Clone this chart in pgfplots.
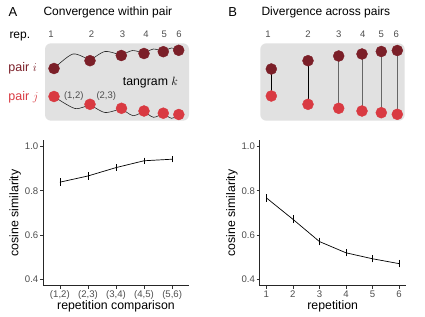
\documentclass[border=0pt]{standalone}
\usepackage{pgfplots}
\pgfplotsset{compat=1.18}
\usepackage{fontspec}
\setmainfont{Liberation Sans}
\definecolor{darkr}{HTML}{7B1F28}
\definecolor{lightr}{HTML}{D93A42}
\definecolor{boxg}{HTML}{E1E1E1}
\definecolor{tickg}{HTML}{4D4D4D}
\pgfplotsset{
  gg/.style={
    scale only axis, width=146pt, height=145.7pt,
    axis lines*=left,
    axis line style={black!85, line width=0.6pt, -},
    tick align=outside, major tick length=3pt,
    tick style={black!80, line width=0.6pt},
    ymin=0.37, ymax=1.03,
    ytick={0.4,0.6,0.8,1.0},
    yticklabels={0.4,0.6,0.8,1.0},
    ticklabel style={font=\fontsize{9.6}{10}\selectfont, text=tickg, inner sep=1.5pt},
    label style={font=\fontsize{12.3}{13}\selectfont},
    ylabel style={at={(axis description cs:-0.19,0.5)}, anchor=center},
    xlabel style={at={(axis description cs:0.5,-0.14)}, anchor=center},
    ylabel={cosine similarity},
  },
  ln/.style={black, line width=0.7pt, mark=none,
    error bars/.cd, y dir=both, y explicit,
    error bar style={line width=0.6pt},
    error mark options={mark size=1.6pt, line width=0.6pt}},
}
\tikzset{num/.style={font=\fontsize{9.5}{10}\selectfont, text=tickg, inner sep=0pt}}
\begin{document}
\begin{tikzpicture}
\useasboundingbox (0,0) rectangle (425pt,316pt);
% ---------- schematic (pixel coordinates) ----------
\begin{axis}[at={(0pt,186pt)}, anchor=south west, scale only axis,
  width=425pt, height=130pt, xmin=0, xmax=425, ymin=0, ymax=130,
  y dir=reverse, hide axis, clip=false]
\fill[boxg, rounded corners=6pt] (axis cs:45,43.3) rectangle (axis cs:189,120.7);
\fill[boxg, rounded corners=6pt] (axis cs:260.3,43.3) rectangle (axis cs:404.7,120.7);
% panel A arcs (top)
\addplot[black!85, line width=0.6pt, smooth] coordinates {(54,68.5) (73,54) (90,60.7)};
\addplot[black!85, line width=0.6pt, smooth] coordinates {(90,60.7) (105,51.5) (121.3,55.5)};
\addplot[black!85, line width=0.6pt, smooth] coordinates {(121.3,55.5) (132.5,50.5) (144,53.5)};
\addplot[black!85, line width=0.6pt, smooth] coordinates {(144,53.5) (153.5,49) (163.3,51.7)};
\addplot[black!85, line width=0.6pt, smooth] coordinates {(163.3,51.7) (171.5,48) (178.7,50.3)};
% panel A arcs (bottom)
\addplot[black!85, line width=0.6pt, smooth] coordinates {(54,96.5) (75,108.5) (90,104.3)};
\addplot[black!85, line width=0.6pt, smooth] coordinates {(90,104.3) (105,112.5) (121.5,108.3)};
\addplot[black!85, line width=0.6pt, smooth] coordinates {(121.5,108.3) (133,115.7) (144,111)};
\addplot[black!85, line width=0.6pt, smooth] coordinates {(144,111) (153.5,117.3) (163.3,113.2)};
\addplot[black!85, line width=0.6pt, smooth] coordinates {(163.3,113.2) (171.5,118.3) (178.8,114.5)};
% panel A dots
\addplot[only marks, mark=*, mark size=5.5pt, color=darkr] coordinates {
  (54,68.5) (90,60.7) (121.3,55.5) (144,53.5) (163.3,51.7) (178.7,50.3)};
\addplot[only marks, mark=*, mark size=5.5pt, color=lightr] coordinates {
  (54,96.5) (90,104.3) (121.5,108.3) (144,111) (163.3,113.2) (178.8,114.5)};
% panel B connectors
\addplot[black, line width=0.7pt] coordinates {(271.3,69) (271.3,96)};
\addplot[black, line width=0.7pt] coordinates {(308,60.7) (308,104.3)};
\addplot[black!60, line width=0.8pt] coordinates {(338.7,56) (338.7,108.3)};
\addplot[black!60, line width=0.8pt] coordinates {(362,54) (362,111)};
\addplot[black!60, line width=0.8pt] coordinates {(381.3,51.5) (381.3,112.7)};
\addplot[black!60, line width=0.8pt] coordinates {(397.3,50.5) (397.3,114.3)};
% panel B dots
\addplot[only marks, mark=*, mark size=5.5pt, color=darkr] coordinates {
  (271.3,69) (308,60.7) (338.7,56) (362,54) (381.3,51.5) (397.3,50.5)};
\addplot[only marks, mark=*, mark size=5.5pt, color=lightr] coordinates {
  (271.3,96) (308,104.3) (338.7,108.3) (362,111) (381.3,112.7) (397.3,114.3)};
% texts
\node[font=\fontsize{13}{13}\selectfont] at (axis cs:13,12) {A};
\node[font=\fontsize{12}{12}\selectfont, anchor=west, inner sep=0pt] at (axis cs:43.3,12) {Convergence within pair};
\node[font=\fontsize{13}{13}\selectfont] at (axis cs:232.7,12) {B};
\node[font=\fontsize{12}{12}\selectfont, anchor=west, inner sep=0pt] at (axis cs:261.3,12) {Divergence across pairs};
\node[font=\fontsize{12}{12}\selectfont, anchor=base west, inner sep=0pt] at (axis cs:9.3,39) {rep.};
\node[num] at (axis cs:51,34.3) {1};
\node[num] at (axis cs:91.5,34.3) {2};
\node[num] at (axis cs:122.5,34.3) {3};
\node[num] at (axis cs:146,34.3) {4};
\node[num] at (axis cs:164.3,34.3) {5};
\node[num] at (axis cs:179,34.3) {6};
\node[num] at (axis cs:268,34.3) {1};
\node[num] at (axis cs:308,34.3) {2};
\node[num] at (axis cs:338.7,34.3) {3};
\node[num] at (axis cs:362.7,34.3) {4};
\node[num] at (axis cs:381.3,34.3) {5};
\node[num] at (axis cs:396.3,34.3) {6};
\node[font=\fontsize{12.5}{13}\selectfont, text=darkr, anchor=base west, inner sep=0pt] at (axis cs:8.3,72) {pair $i$};
\node[font=\fontsize{12.5}{13}\selectfont, text=lightr, anchor=base west, inner sep=0pt] at (axis cs:8.3,100) {pair $j$};
\node[font=\fontsize{12.3}{13}\selectfont, anchor=base west, inner sep=0pt] at (axis cs:122.7,85.5) {tangram $k$};
\node[num] at (axis cs:73.8,95.7) {(1,2)};
\node[num] at (axis cs:106.3,95.7) {(2,3)};
\end{axis}
% ---------- panel A plot ----------
\begin{axis}[gg, at={(43pt,30.3pt)}, anchor=south west,
  xmin=0.4, xmax=5.6, xtick={1,2,3,4,5},
  xticklabels={{(1,2)},{(2,3)},{(3,4)},{(4,5)},{(5,6)}},
  xlabel={repetition comparison}]
\addplot[ln] coordinates {
  (1,0.839) +- (0,0.010)
  (2,0.867) +- (0,0.009)
  (3,0.905) +- (0,0.008)
  (4,0.936) +- (0,0.007)
  (5,0.943) +- (0,0.007)};
\end{axis}
% ---------- panel B plot ----------
\begin{axis}[gg, at={(259.7pt,30.3pt)}, anchor=south west,
  xmin=0.75, xmax=6.25, xtick={1,2,3,4,5,6},
  xticklabels={1,2,3,4,5,6},
  xlabel={repetition}]
\addplot[ln] coordinates {
  (1,0.768) +- (0,0.010)
  (2,0.671) +- (0,0.010)
  (3,0.570) +- (0,0.010)
  (4,0.519) +- (0,0.009)
  (5,0.492) +- (0,0.009)
  (6,0.470) +- (0,0.010)};
\end{axis}
\end{tikzpicture}
\end{document}
